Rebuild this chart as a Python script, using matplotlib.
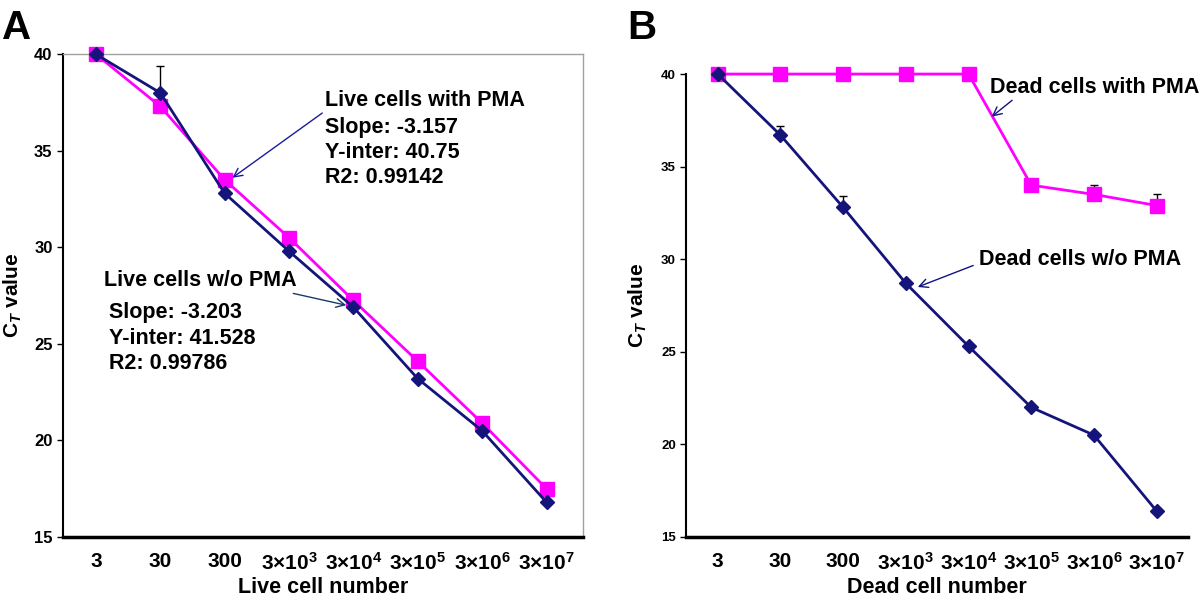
import matplotlib
matplotlib.use('Agg')
import matplotlib.pyplot as plt
import numpy as np

plt.rcParams['font.family'] = ['Liberation Sans', 'DejaVu Sans']
plt.rcParams['font.weight'] = 'bold'
plt.rcParams['mathtext.fontset'] = 'custom'
plt.rcParams['mathtext.rm'] = 'Liberation Sans:bold'
plt.rcParams['mathtext.it'] = 'Liberation Sans:bold:italic'
plt.rcParams['mathtext.bf'] = 'Liberation Sans:bold'

# categories (cell numbers)
cells = ['3', '30', '300', '3×10$^3$', '3×10$^4$', '3×10$^5$', '3×10$^6$', '3×10$^7$']

# panel A: live cells
live_wo_pma = [40, 38.0, 32.8, 29.8, 26.9, 23.2, 20.5, 16.8]
live_wo_err = [0, 1.4, 0, 0, 0, 0, 0, 0]
live_pma = [40, 37.3, 33.5, 30.5, 27.25, 24.1, 20.9, 17.5]

# panel B: dead cells
dead_wo_pma = [40, 36.7, 32.8, 28.7, 25.3, 22.0, 20.5, 16.4]
dead_wo_err = [0, 0.5, 0.6, 0.1, 0, 0, 0, 0]
dead_pma = [40, 40, 40, 40, 40, 34.0, 33.5, 32.9]
dead_pma_err = [0, 0, 0, 0, 0, 0, 0.5, 0.6]

navy = '#14147a'
magenta = '#ff00ff'
x = np.arange(len(cells))

fig = plt.figure(figsize=(12, 6.02), dpi=100)
axA = fig.add_axes([0.0525, 0.108, 0.4335, 0.802])
axB = fig.add_axes([0.572, 0.108, 0.418, 0.769])


def draw(ax, wo, wo_err, pma, pma_err):
    ax.errorbar(x, wo, yerr=[np.zeros(len(wo)), wo_err], color=navy, lw=2,
                marker='D', ms=7.5, ecolor='black', elinewidth=1, capsize=3,
                zorder=3, clip_on=False)
    ax.errorbar(x, pma, yerr=[np.zeros(len(pma)), pma_err], color=magenta, lw=2,
                marker='s', ms=10.5, ecolor='black', elinewidth=1, capsize=3,
                zorder=2, clip_on=False)
    ax.set_ylim(15, 40)
    ax.set_yticks([15, 20, 25, 30, 35, 40])
    ax.set_xticks(x)
    ax.set_xticklabels(cells, fontsize=15, fontweight='bold')
    ax.tick_params(axis='x', length=0, pad=11)
    ax.tick_params(axis='y', direction='out', length=4, width=1)
    ax.spines['bottom'].set_linewidth(2.5)
    ax.spines['left'].set_linewidth(1.5)
    ax.set_ylabel('C$_{\\mathit{T}}$ value', fontsize=15, fontweight='bold')
    ax.yaxis.set_label_coords(-0.075, 0.5)


# ---- panel A
draw(axA, live_wo_pma, live_wo_err, live_pma, np.zeros(8))
axA.set_xlim(-0.51, 7.57)
for s in ['top', 'right']:
    axA.spines[s].set_color('#a0a0a0')
    axA.spines[s].set_linewidth(1)
for lab in axA.get_yticklabels():
    lab.set_fontsize(12)
axA.set_xlabel('Live cell number', fontsize=15.5, fontweight='bold', labelpad=2)

kw = dict(fontsize=15.5, fontweight='bold', va='center', ha='left')
axA.annotate('Live cells with PMA', xy=(2.12, 33.6), xytext=(3.56, 37.6),
             arrowprops=dict(arrowstyle='->', color='#1a1aa0', lw=1,
                             shrinkA=0, shrinkB=0, relpos=(0, 0)), **kw)
axA.text(3.56, 36.2, 'Slope: -3.157', **kw)
axA.text(3.56, 34.9, 'Y-inter: 40.75', **kw)
axA.text(3.56, 33.6, 'R2: 0.99142', **kw)

axA.annotate('Live cells w/o PMA', xy=(3.89, 27.0), xytext=(0.12, 28.3),
             arrowprops=dict(arrowstyle='->', color='#1a3a6a', lw=1,
                             shrinkA=0, shrinkB=0, relpos=(0.92, 0)), **kw)
axA.text(0.2, 26.6, 'Slope: -3.203', **kw)
axA.text(0.2, 25.3, 'Y-inter: 41.528', **kw)
axA.text(0.2, 24.0, 'R2: 0.99786', **kw)

# ---- panel B
draw(axB, dead_wo_pma, dead_wo_err, dead_pma, dead_pma_err)
axB.set_xlim(-0.5, 7.5)
axB.spines['top'].set_visible(False)
axB.spines['right'].set_visible(False)
for lab in axB.get_yticklabels():
    lab.set_fontsize(9.5)
axB.set_xlabel('Dead cell number', fontsize=15.5, fontweight='bold', labelpad=2)

axB.annotate('Dead cells with PMA', xy=(4.37, 37.7), xytext=(4.35, 39.3),
             arrowprops=dict(arrowstyle='->', color=navy, lw=1,
                             shrinkA=0, shrinkB=0, relpos=(0.12, 0)), **kw)
axB.annotate('Dead cells w/o PMA', xy=(3.19, 28.5), xytext=(4.16, 30.0),
             arrowprops=dict(arrowstyle='->', color=navy, lw=1,
                             shrinkA=2, shrinkB=0, relpos=(0, 0.3)), **kw)

fig.text(0.002, 0.985, 'A', fontsize=29, fontweight='bold', va='top', ha='left')
fig.text(0.523, 0.985, 'B', fontsize=29, fontweight='bold', va='top', ha='left')

fig.savefig('out.png', dpi=100)
